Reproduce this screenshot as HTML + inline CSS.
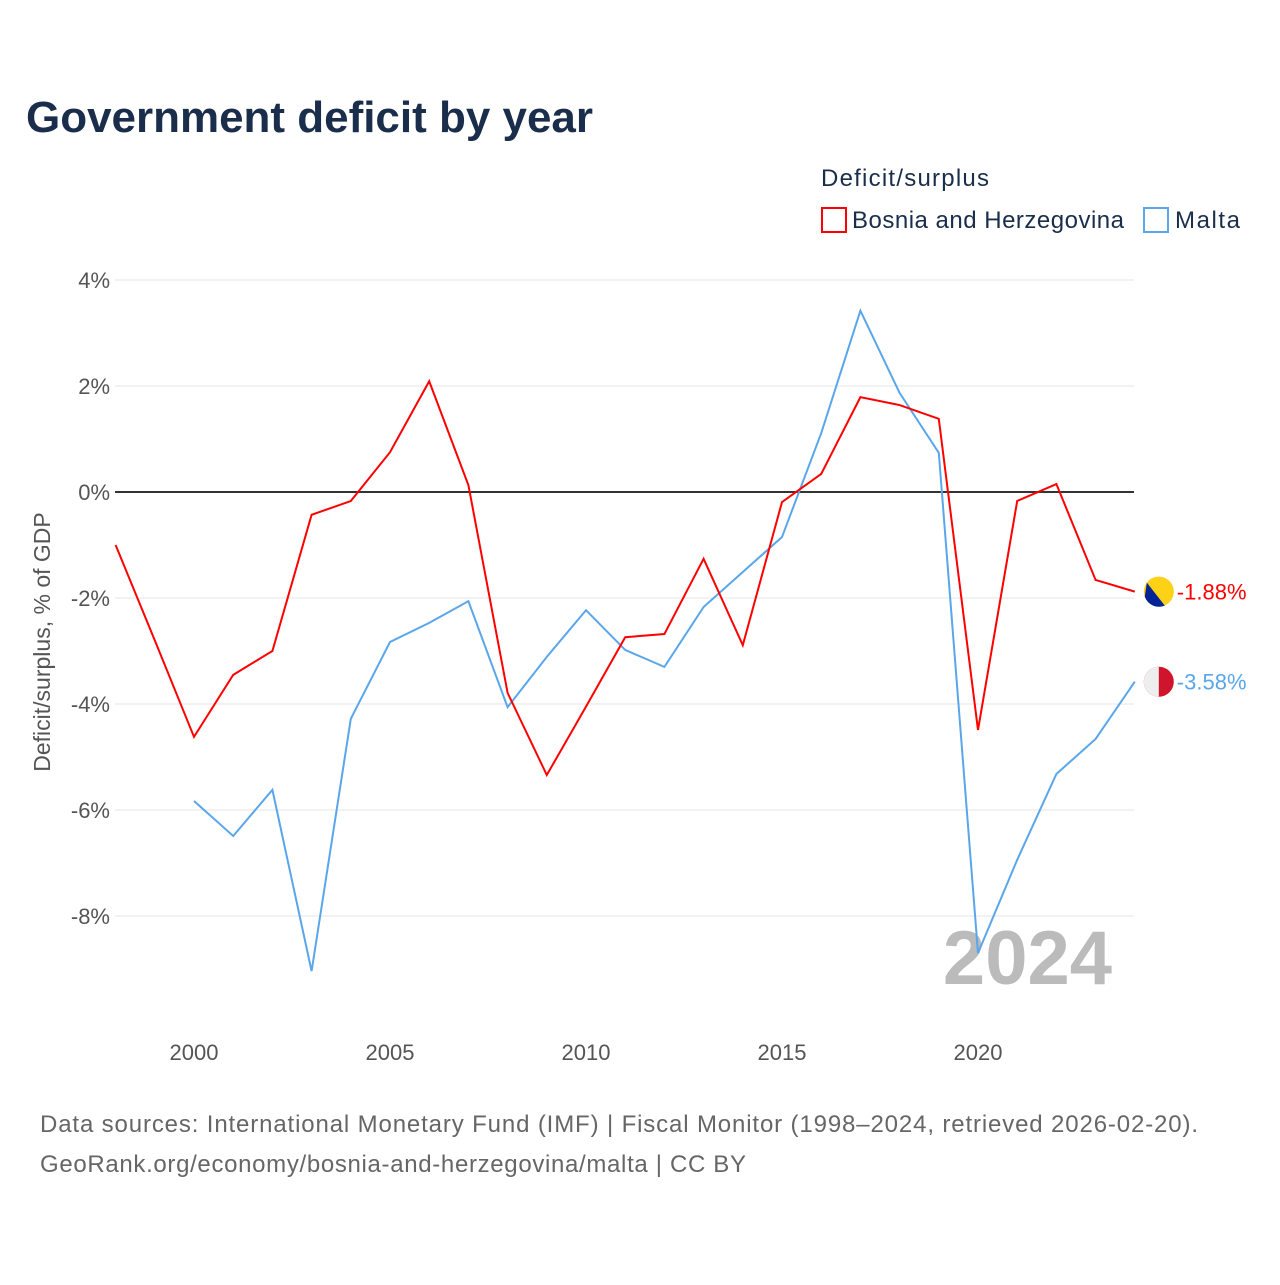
<!DOCTYPE html>
<html><head><meta charset="utf-8"><style>
body{margin:0;background:#fff;font-family:"Liberation Sans",sans-serif}
</style></head><body>
<svg width="1280" height="1280" xmlns="http://www.w3.org/2000/svg" font-family="Liberation Sans, sans-serif">
<text x="26" y="132" font-size="44" font-weight="bold" fill="#1a2e4c" textLength="567">Government deficit by year</text>
<text x="821" y="186" font-size="24" fill="#1a2e4c" textLength="168">Deficit/surplus</text>
<g><rect x="822" y="208" width="24" height="24" fill="none" stroke="#f00" stroke-width="2"/><text x="852" y="228" font-size="24" fill="#1a2e4c" textLength="272">Bosnia and Herzegovina</text></g>
<g><rect x="1144" y="208" width="24" height="24" fill="none" stroke="#5aa6ea" stroke-width="2"/><text x="1175" y="228" font-size="24" fill="#1a2e4c" textLength="65">Malta</text></g>
<g id="grid"></g>
<g id="xticks"></g>
<text transform="translate(50,642) rotate(-90)" text-anchor="middle" font-size="23" fill="#555">Deficit/surplus, % of GDP</text>
<text x="1112" y="984" text-anchor="end" font-size="76" font-weight="bold" fill="#bbb">2024</text>
<g id="series"></g>
<text x="40" y="1132" font-size="24" fill="#666" textLength="1158">Data sources: International Monetary Fund (IMF) | Fiscal Monitor (1998–2024, retrieved 2026-02-20).</text>
<text x="40" y="1172" font-size="24" fill="#666" textLength="706">GeoRank.org/economy/bosnia-and-herzegovina/malta | CC BY</text>
</svg>
<script>
const years=[1998,1999,2000,2001,2002,2003,2004,2005,2006,2007,2008,2009,2010,2011,2012,2013,2014,2015,2016,2017,2018,2019,2020,2021,2022,2023,2024];
const bosnia=[-1.0,-2.8,-4.62,-3.45,-3.0,-0.43,-0.17,0.75,2.09,0.13,-3.79,-5.34,-4.05,-2.74,-2.68,-1.26,-2.89,-0.19,0.34,1.79,1.64,1.38,-4.49,-0.17,0.15,-1.66,-1.88];
const malta=[null,null,-5.83,-6.49,-5.62,-9.04,-4.28,-2.83,-2.47,-2.06,-4.06,-3.11,-2.23,-2.98,-3.3,-2.17,-1.51,-0.85,1.11,3.42,1.87,0.74,-8.7,-6.94,-5.32,-4.66,-3.58];
const yTicks=[4,2,0,-2,-4,-6,-8];
const xTicks=[2000,2005,2010,2015,2020];
const NS="http://www.w3.org/2000/svg";
const X=y=>194+(y-2000)*39.2;
const Y=v=>492-v*53;
function mk(t,a,p){const e=document.createElementNS(NS,t);for(const k in a)e.setAttribute(k,a[k]);p.appendChild(e);return e;}
const grid=document.getElementById('grid');
yTicks.forEach(v=>{
 const l=mk('line',{x1:115,x2:1134,y1:Y(v),y2:Y(v),stroke:v===0?'#333':'#e6e6e6','stroke-width':v===0?2:1},grid);
 
 
 const t=mk('text',{x:110,y:Y(v)+8,'text-anchor':'end','font-size':22,fill:'#555'},grid);
 t.textContent=v+'%';
 
 
});
const xg=document.getElementById('xticks');
xTicks.forEach(v=>{
 const t=mk('text',{x:X(v),y:1060,'text-anchor':'middle','font-size':22,fill:'#555'},xg);
 t.textContent=v;
 
 
});
const sg=document.getElementById('series');
function line(vals,col,name){
 let d='';vals.forEach((v,i)=>{if(v===null)return;d+=(d?'L':'M')+X(years[i])+','+Y(v);});
 const p=mk('path',{d:d,fill:'none',stroke:col,'stroke-width':2},sg);
 
 
 const last=vals[vals.length-1],lx=X(years[years.length-1]),ly=Y(last);
 const c=mk('circle',{cx:lx+24,cy:ly,r:15,fill:name==='bosnia'?'#fcd116':'#cf142b'},sg);
 
 
 if(name==='malta'){const h=mk('path',{d:`M${lx+24},${ly-15}A15,15 0 0 0 ${lx+24},${ly+15}Z`,fill:'#eee'},sg);}
 else{const h=mk('path',{d:`M${lx+12},${ly-9}L${lx+30},${ly+14}A15,15 0 0 1 ${lx+10},${ly+5}Z`,fill:'#002395'},sg);}
 const t=mk('text',{x:lx+42,y:ly+8,'font-size':22,fill:col},sg);
 t.textContent=last.toFixed(2)+'%';
 
 
}
line(malta,'#5aa6ea','malta');
line(bosnia,'#f00','bosnia');
</script>
</body></html>
